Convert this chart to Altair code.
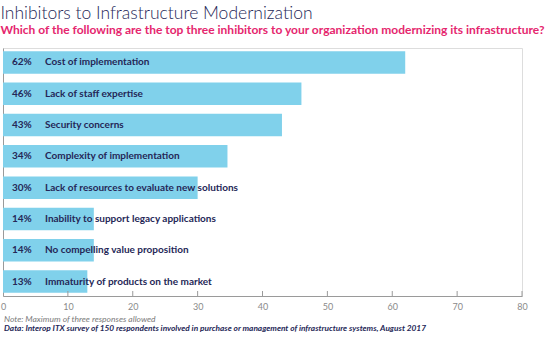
import altair as alt
import pandas as pd

categories = [
    "Cost of implementation",
    "Lack of staff expertise",
    "Security concerns",
    "Complexity of implementation",
    "Lack of resources to evaluate new solutions",
    "Inability to support legacy applications",
    "No compelling value proposition",
    "Immaturity of products on the market",
]
values = [62, 46, 43, 34.6, 30, 14, 14, 13]
pct_labels = ["62%", "46%", "43%", "34%", "30%", "14%", "14%", "13%"]
tick_values = [10, 20, 30, 40, 50, 60, 70, 80]

title_text = "Inhibitors to Infrastructure Modernization"
subtitle_text = "Which of the following are the top three inhibitors to your organization modernizing its infrastructure?"
note_text = "Note: Maximum of three responses allowed"
source_text = "Data: Interop ITX survey of 150 respondents involved in purchase or management of infrastructure systems, August 2017"

df = pd.DataFrame({"cat": categories, "val": values, "pct": pct_labels})
ticks_df = pd.DataFrame({"t": tick_values})

W, H = 519, 248
NAVY = "#252757"
BAR = "#80D1EB"
GRAY = "#9a9a9a"
FONT = "Lato"

xscale = alt.Scale(domain=[0, 80], nice=False)
yscale = alt.Scale(domain=categories, paddingInner=0.28, paddingOuter=0.1)

bars = alt.Chart(df).mark_bar(color=BAR).encode(
    x=alt.X("val:Q", scale=xscale,
            axis=alt.Axis(values=[0, 10, 20, 30, 40, 50, 60, 70, 80], title=None, grid=False,
                          ticks=False, domainColor=GRAY, domainWidth=1,
                          labelColor="#8a8a8a", labelFontSize=9, labelFont=FONT,
                          labelPadding=6, labelFlush=False)),
    y=alt.Y("cat:N", scale=yscale, sort=categories,
            axis=alt.Axis(title=None, labels=False, ticks=False, grid=False,
                          domainColor=GRAY, domainWidth=1)),
)

pct = alt.Chart(df).mark_text(align="left", baseline="middle", font=FONT, fontWeight="bold",
                              fontSize=10, color=NAVY).encode(
    x=alt.value(9),
    y=alt.Y("cat:N", scale=yscale, sort=categories),
    text="pct:N",
)

names = alt.Chart(df).mark_text(align="left", baseline="middle", font=FONT, fontWeight="bold",
                                fontSize=10, color=NAVY).encode(
    x=alt.value(42),
    y=alt.Y("cat:N", scale=yscale, sort=categories),
    text="cat:N",
)

tick_marks = alt.Chart(ticks_df).mark_rule(color=GRAY, strokeWidth=1).encode(
    x=alt.X("t:Q", scale=xscale),
    y=alt.value(H - 5),
    y2=alt.value(H),
)

note = alt.Chart(pd.DataFrame({"t": [note_text]})).mark_text(
    align="left", baseline="middle", font=FONT, fontStyle="italic", fontSize=8.5, color="#7a7a7a"
).encode(x=alt.value(1), y=alt.value(H + 22.5), text="t:N")

source = alt.Chart(pd.DataFrame({"t": [source_text]})).mark_text(
    align="left", baseline="middle", font=FONT, fontStyle="italic", fontWeight="bold",
    fontSize=8.3, color=NAVY
).encode(x=alt.value(1), y=alt.value(H + 33), text="t:N")

chart = alt.layer(bars, pct, names, tick_marks, note, source).properties(
    width=W, height=H,
    title=alt.Title(title_text, subtitle=subtitle_text, anchor="start", offset=12,
                    font=FONT, fontSize=17.5, fontWeight=300, color=NAVY,
                    subtitleFont=FONT, subtitleFontSize=12, subtitleFontWeight="bold",
                    subtitleColor="#E5266E", subtitlePadding=3),
    autosize=alt.AutoSizeParams(type="none"),
    padding={"left": 3, "top": 48, "right": 28, "bottom": 42},
).configure_view(stroke=None).configure(background="white")

chart.save("out.html", embed_options={"renderer": "svg", "actions": False})
